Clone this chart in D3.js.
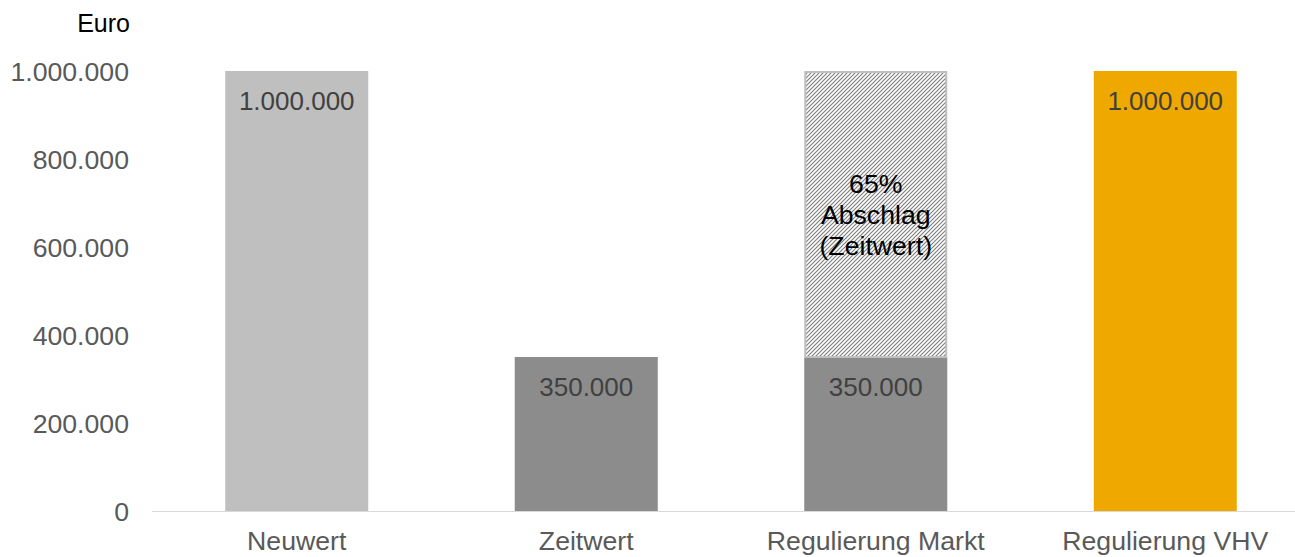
<!DOCTYPE html>
<html>
<head>
<meta charset="utf-8">
<script src="https://cdn.jsdelivr.net/npm/d3@7"></script>
<style>
  body { margin: 0; background: #fff; }
  text { font-family: "Liberation Sans", Arial, sans-serif; }
</style>
</head>
<body>
<div id="chart"></div>
<script>
// chart data
let categories = ["Neuwert", "Zeitwert", "Regulierung Markt", "Regulierung VHV"];
let baseValues = [1000000, 350000, 350000, 1000000];
let hatchValues = [0, 0, 650000, 0];
let barColors = ["#bfbfbf", "#8c8c8c", "#8c8c8c", "#efa800"];
let yTicks = [0, 200000, 400000, 600000, 800000, 1000000];
let hatchLabel = ["65%", "Abschlag", "(Zeitwert)"];

let width = 1295, height = 557;
let svg = d3.select("#chart").append("svg")
    .attr("width", width)
    .attr("height", height);

// hatch pattern for the "Abschlag" part
let defs = svg.append("defs");
let pat = defs.append("pattern")
    .attr("id", "hatch")
    .attr("patternUnits", "userSpaceOnUse")
    .attr("width", 4)
    .attr("height", 4);
pat.append("rect").attr("width", 4).attr("height", 4).attr("fill", "#fff");
pat.append("path")
    .attr("d", "M-1,1 l2,-2 M0,4 l4,-4 M3,5 l2,-2")
    .attr("stroke", "#808080")
    .attr("stroke-width", 1.2);

let x = d3.scaleBand()
    .domain(categories)
    .range([152, 1310])
    .paddingInner(0.506)
    .paddingOuter(0.253);

let y = d3.scaleLinear()
    .domain([0, 1000000])
    .range([511, 71]);

let fmt = d => d3.format(",")(d).replace(/,/g, ".");

// y tick labels
svg.selectAll(".ytick")
    .data(yTicks)
    .join("text")
    .attr("class", "ytick")
    .attr("x", 129)
    .attr("y", d => y(d) + 9.5)
    .attr("text-anchor", "end")
    .attr("fill", "#595959")
    .style("font-size", "26.67px")
    .text(d => fmt(d));

svg.append("text")
    .attr("x", 130)
    .attr("y", 32)
    .attr("text-anchor", "end")
    .attr("fill", "#000")
    .style("font-size", "25px")
    .text("Euro");

// base bars
svg.selectAll(".bar")
    .data(categories)
    .join("rect")
    .attr("class", "bar")
    .attr("x", d => x(d))
    .attr("width", x.bandwidth())
    .attr("y", (d, i) => y(baseValues[i]))
    .attr("height", (d, i) => y(0) - y(baseValues[i]))
    .attr("fill", (d, i) => barColors[i]);

// hatched stacked part
let hatchData = categories.map((c, i) => ({c: c, base: baseValues[i], v: hatchValues[i]}))
    .filter(d => d.v > 0);
svg.selectAll(".hatch")
    .data(hatchData)
    .join("rect")
    .attr("class", "hatch")
    .attr("x", d => x(d.c) + 1)
    .attr("width", x.bandwidth() - 2)
    .attr("y", d => y(d.base + d.v) + 1)
    .attr("height", d => y(d.base) - y(d.base + d.v) - 1)
    .attr("fill", "url(#hatch)")
    .attr("stroke", "#bfbfbf")
    .attr("stroke-width", 2);

hatchData.forEach(d => {
    let cx = x(d.c) + x.bandwidth() / 2;
    svg.selectAll(null)
        .data(hatchLabel)
        .join("text")
        .attr("x", cx)
        .attr("y", (t, j) => 193 + j * 31)
        .attr("text-anchor", "middle")
        .attr("fill", "#000")
        .style("font-size", "26.67px")
        .text(t => t);
});

// value labels
svg.selectAll(".vlabel")
    .data(categories)
    .join("text")
    .attr("class", "vlabel")
    .attr("x", d => x(d) + x.bandwidth() / 2)
    .attr("y", (d, i) => y(baseValues[i]) + 39)
    .attr("text-anchor", "middle")
    .attr("fill", "#404040")
    .style("font-size", "26px")
    .text((d, i) => fmt(baseValues[i]));

// x axis line
svg.append("line")
    .attr("x1", 152)
    .attr("x2", 1295)
    .attr("y1", y(0) + 0.5)
    .attr("y2", y(0) + 0.5)
    .attr("stroke", "#d9d9d9")
    .attr("stroke-width", 1);

// category labels
svg.selectAll(".xlabel")
    .data(categories)
    .join("text")
    .attr("class", "xlabel")
    .attr("x", d => x(d) + x.bandwidth() / 2)
    .attr("y", 550)
    .attr("text-anchor", "middle")
    .attr("fill", "#595959")
    .style("font-size", "26.67px")
    .text(d => d);
</script>
</body>
</html>
